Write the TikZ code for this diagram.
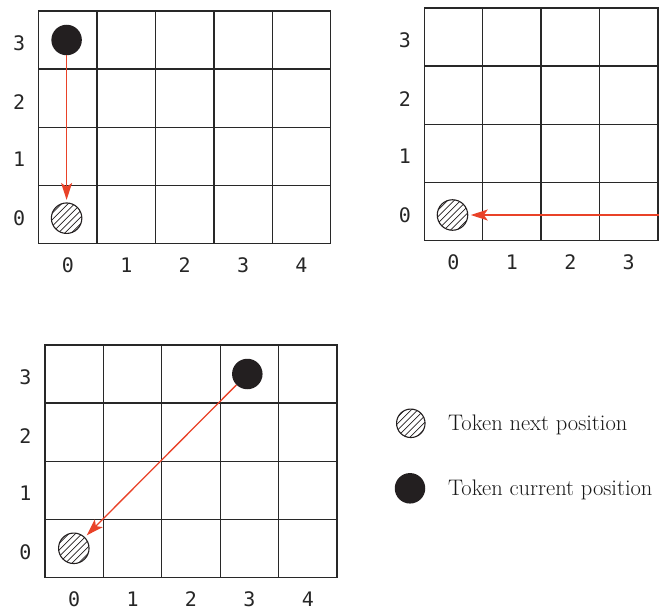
\documentclass[tikz,border=0pt]{standalone}
\usepackage{fontspec}
\newfontfamily\labelmono{DejaVu Sans Mono}
\usetikzlibrary{arrows.meta}
\definecolor{arrowred}{RGB}{233,66,40}
\definecolor{gridgray}{RGB}{40,40,40}
\definecolor{tokenblack}{RGB}{35,31,32}
\tikzset{
  gridline/.style={draw=gridgray, line width=1.25pt},
  axislabel/.style={font=\labelmono\fontsize{20}{20}\selectfont, text=black!85, inner sep=0pt},
  curtoken/.style={circle, fill=tokenblack, minimum size=30.5pt, inner sep=0pt},
  nexttoken/.style={circle, draw=tokenblack, line width=1.1pt, minimum size=30.5pt, inner sep=0pt,
    path picture={\foreach \k in {-26,-19.5,...,26}{\draw[line width=0.7pt, tokenblack]
      ([shift={(\k pt-20pt,-20pt)}]path picture bounding box.center) -- ++(40pt,40pt);}}},
  move/.style={draw=arrowred, line width=1.3pt, -{Stealth[length=17pt,width=11pt,inset=4pt]}, shorten >=2.5pt},
  legendtext/.style={font=\fontsize{22.5}{26}\selectfont, anchor=base west, inner sep=0pt, text=black!90},
}
\begin{document}
\begin{tikzpicture}[x=1pt,y=-1pt]
\path[use as bounding box] (0,0) rectangle (659,610);
\clip (0,0) rectangle (659,610);
% grids
\foreach \ox/\oy/\gn/\nc in {38.7/11/A/4, 424.3/8/B/3, 45/345/C/4}{
  \foreach \i in {1,...,4}
    \draw[gridline] (\ox+\i*58.4,\oy) -- (\ox+\i*58.4,\oy+4*58.1);
  \foreach \j in {1,...,3}
    \draw[gridline] (\ox,\oy+\j*58.1) -- (\ox+5*58.4,\oy+\j*58.1);
  \draw[gridline] (\ox,\oy) rectangle (\ox+5*58.4,\oy+4*58.1);
  \foreach \i in {0,...,\nc}
    \node[axislabel] (\gn col\i) at (\ox+29.2+\i*58.4,\oy+4*58.1+21.5) {\i};
  \foreach \j in {0,...,3}
    \node[axislabel] (\gn row\j) at (\ox-19.5,\oy+32.5+3*58.1-\j*58.1) {\j};
}
% grid A
\node[curtoken] (curA) at (66.6,40) {};
\node[nexttoken] (nextA) at (66.6,218.2) {};
\draw[move] (curA) -- (nextA);
% grid B
\coordinate (startB) at (672,215);
\node[nexttoken] (nextB) at (452.5,215) {};
\draw[move] (startB) -- (nextB);
% grid C
\node[curtoken] (curC) at (247.3,374) {};
\node[nexttoken] (nextC) at (73.8,548.3) {};
\draw[move] (curC) -- (nextC);
% legend
\node[nexttoken, minimum size=28.5pt] (legNext) at (410.8,423.3) {};
\node[curtoken] (legCur) at (410,488.3) {};
\node[legendtext] (legNextText) at (448,430.7) {Token next position};
\node[legendtext] (legCurText) at (448,495.5) {Token current position};
\end{tikzpicture}
\end{document}
